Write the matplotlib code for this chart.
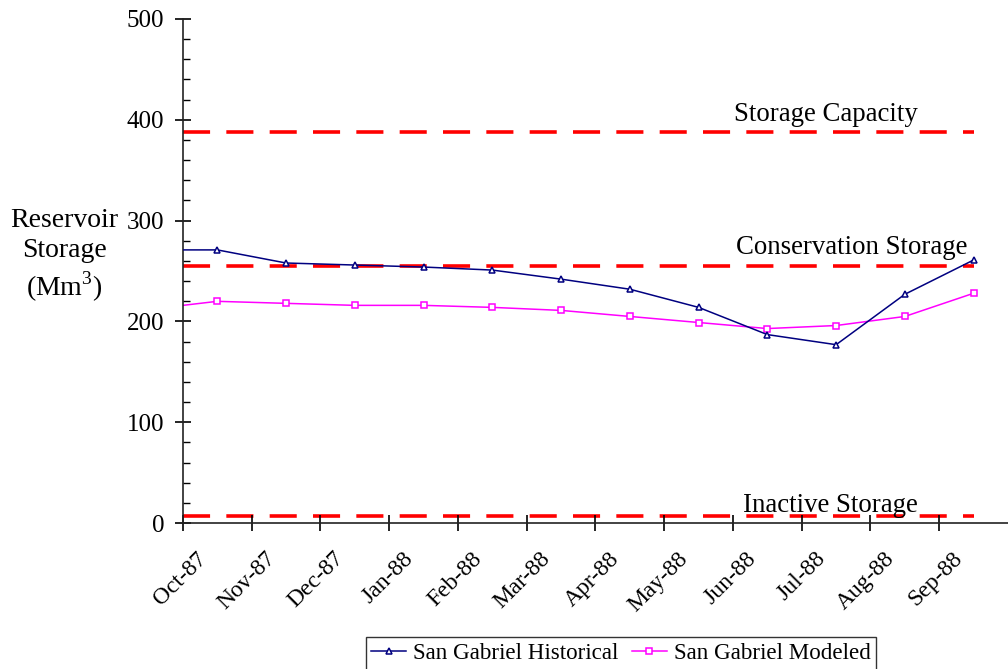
"""
San Gabriel reservoir storage, historical vs modeled, Oct-87 to Sep-88.
"""

import matplotlib
matplotlib.use("Agg")
import matplotlib.pyplot as plt
import matplotlib.transforms as mtransforms
from matplotlib.ticker import MultipleLocator

plt.rcParams["font.family"] = ["Liberation Serif", "DejaVu Serif"]
plt.rcParams["mathtext.fontset"] = "custom"
plt.rcParams["mathtext.rm"] = "Liberation Serif"

months = ["Oct-87", "Nov-87", "Dec-87", "Jan-88", "Feb-88", "Mar-88",
          "Apr-88", "May-88", "Jun-88", "Jul-88", "Aug-88", "Sep-88"]

# first value sits at the start of Oct-87, the rest at mid-month
x_pos = [0, 0.5, 1.5, 2.5, 3.5, 4.5, 5.5, 6.5, 7.5, 8.5, 9.5, 10.5, 11.5]
historical = [271, 271, 258, 256, 254, 251, 242, 232, 214, 187, 177, 227, 261]
modeled = [216, 220, 218, 216, 216, 214, 211, 205, 199, 193, 196, 205, 228]

storage_capacity = 388
conservation_storage = 255
inactive_storage = 7

fig = plt.figure(figsize=(10.08, 6.69), dpi=100)
ax = fig.add_axes([0.1815, 0.218, 0.8185, 0.7536])

dash = dict(color="#ff0000", lw=2.6, dashes=(7.5, 4.5))
for level in (storage_capacity, conservation_storage, inactive_storage):
    ax.plot([x_pos[0], x_pos[-1]], [level, level], **dash, zorder=1)

ax.plot(x_pos, historical, color="#000080", lw=1.1, marker="^", ms=4.5,
        mfc="white", mec="#000080", mew=1.1, markevery=list(range(1, 13)),
        label="San Gabriel Historical", zorder=3)
ax.plot(x_pos, modeled, color="#ff00ff", lw=1.1, marker="s", ms=4,
        mfc="white", mec="#ff00ff", mew=1.1, markevery=list(range(1, 13)),
        label="San Gabriel Modeled", zorder=2)

txt = dict(fontsize=19.3, ha="center", va="baseline")
ax.text(9.35, 399, "Storage Capacity", **txt)
ax.text(9.72, 267, "Conservation Storage", **txt)
ax.text(9.41, 11, "Inactive Storage", **txt)

ax.set_xlim(0, 12)
ax.set_ylim(0, 500)
ax.set_xticks(range(len(months)))
ax.yaxis.set_major_locator(MultipleLocator(100))
ax.yaxis.set_minor_locator(MultipleLocator(20))
ax.tick_params(axis="y", which="major", direction="inout", length=11,
               width=1.2, labelsize=18, pad=8)
ax.tick_params(axis="y", which="minor", direction="in", length=5, width=1)
ax.tick_params(axis="x", which="major", direction="inout", length=11,
               width=1.2, pad=3)

ax.set_xticklabels(months, rotation=45, ha="right", rotation_mode="anchor",
                   fontsize=17)
# push the slanted month labels right and down, as in the original
shift = mtransforms.ScaledTranslation(0.13, -0.13, fig.dpi_scale_trans)
for lab in ax.get_xticklabels():
    lab.set_transform(lab.get_transform() + shift)

for side in ("top", "right"):
    ax.spines[side].set_visible(False)
for side in ("left", "bottom"):
    ax.spines[side].set_linewidth(1.2)
    ax.spines[side].set_color("#222222")

fig.text(0.0635, 0.617, "Reservoir\nStorage\n(Mm$^3$)", ha="center",
         va="center", fontsize=20, linespacing=1.25)

leg = fig.legend(loc="upper center", bbox_to_anchor=(0.616, 0.048), ncol=2,
                 fontsize=16.6, frameon=True, fancybox=False, edgecolor="black",
                 handlelength=1.5, handletextpad=0.3, columnspacing=0.6,
                 borderpad=0.25, borderaxespad=0)
leg.get_frame().set_linewidth(1.0)

fig.savefig("out.png", dpi=100)
